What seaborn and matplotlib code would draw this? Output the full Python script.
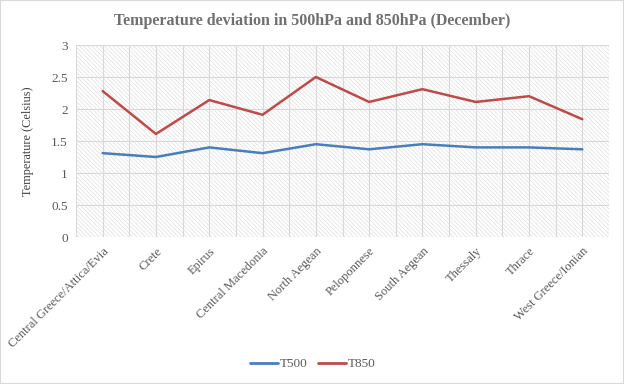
import matplotlib
matplotlib.use("Agg")
import matplotlib.pyplot as plt
import seaborn as sns
import pandas as pd
from matplotlib.patches import Rectangle
from matplotlib.lines import Line2D

regions = ["Central Greece/Attica/Evia", "Crete", "Epirus", "Central Macedonia",
           "North Aegean", "Peloponnese", "South Aegean", "Thessaly", "Thrace",
           "West Greece/Ionian"]
t500 = [1.31, 1.25, 1.40, 1.31, 1.45, 1.37, 1.45, 1.40, 1.40, 1.37]
t850 = [2.28, 1.61, 2.14, 1.91, 2.50, 2.11, 2.31, 2.11, 2.20, 1.84]
series_names = ["T500", "T850"]
y_ticks = [0, 0.5, 1, 1.5, 2, 2.5, 3]

sns.set_theme(style="white")
plt.rcParams['font.family'] = ['Liberation Serif', 'DejaVu Serif']
plt.rcParams['hatch.color'] = '#e0e0e0'
plt.rcParams['hatch.linewidth'] = 0.5

df = pd.DataFrame({
    "region": regions * 2,
    "x": list(range(len(regions))) * 2,
    "value": t500 + t850,
    "series": [series_names[0]] * len(regions) + [series_names[1]] * len(regions),
})

fig = plt.figure(figsize=(6.24, 3.84), dpi=100)
ax = fig.add_axes([76/624, 1 - 237/384, (609-76)/624, (237-45)/384])

# hatched background
ax.add_patch(Rectangle((0, 0), 1, 1, transform=ax.transAxes, facecolor='white',
                       edgecolor='#e0e0e0', hatch='\\' * 8, linewidth=0, zorder=0))

# grid lines every half category
for k in range(0, 2 * len(regions) + 1):
    ax.axvline(-0.5 + k * 0.5, color='#d9d9d9', lw=0.8, zorder=1)
for yv in y_ticks:
    ax.axhline(yv, color='#d9d9d9', lw=0.8, zorder=1)

palette = {"T500": "#4a7ebb", "T850": "#be4b48"}
sns.lineplot(data=df, x="x", y="value", hue="series", palette=palette, lw=1.8,
             ax=ax, legend=False, zorder=3)

ax.set_xlim(-0.5, len(regions) - 0.5)
ax.set_ylim(0, 3)
ax.set_yticks(y_ticks)
ax.set_yticklabels([f"{v:g}" for v in y_ticks], fontsize=9.5, color='#595959')
ax.set_xticks(range(len(regions)))
ax.set_xticklabels(regions, rotation=45, ha='right', rotation_mode='anchor',
                   fontsize=9, color='#595959')
ax.tick_params(axis='both', length=0, pad=6)
ax.set_xlabel("")
ax.set_ylabel("Temperature (Celsius)", fontsize=8.8, color='#404040', labelpad=12)
for s in ax.spines.values():
    s.set_visible(False)

fig.suptitle("Temperature deviation in 500hPa and 850hPa (December)", x=0.5, y=0.965,
             fontsize=11.5, fontweight='bold', color='#707070')

handles = [Line2D([], [], color=palette[s], lw=2) for s in series_names]
fig.legend(handles, series_names, loc='center', bbox_to_anchor=(313/624, 1 - 364/384),
           ncol=2, frameon=False, fontsize=9.5, handlelength=2.1, columnspacing=0.8,
           handletextpad=0.15, labelcolor='#595959')

fig.add_artist(Rectangle((0, 0), 1, 1, transform=fig.transFigure, fill=False,
                         edgecolor='#d9d9d9', lw=1.5))

fig.savefig("out.png", dpi=100, facecolor='white')
